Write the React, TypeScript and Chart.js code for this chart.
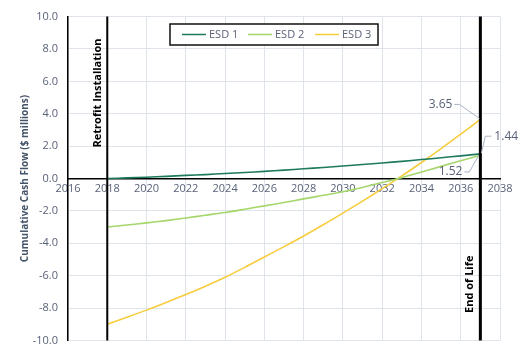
import React, { useEffect, useRef } from "react";
import { Chart, registerables } from "chart.js";

Chart.register(...registerables);

const years = [2018, 2019, 2020, 2021, 2022, 2023, 2024, 2025, 2026, 2027, 2028, 2029, 2030, 2031, 2032, 2033, 2034, 2035, 2036, 2037];
const esd1 = [0.0, 0.04, 0.08, 0.13, 0.19, 0.24, 0.31, 0.37, 0.44, 0.52, 0.6, 0.68, 0.77, 0.86, 0.96, 1.06, 1.17, 1.28, 1.4, 1.52];
const esd2 = [-3.0, -2.87, -2.74, -2.6, -2.44, -2.27, -2.1, -1.9, -1.69, -1.48, -1.26, -1.04, -0.82, -0.55, -0.25, 0.05, 0.4, 0.75, 1.1, 1.44];
const esd3 = [-9.0, -8.57, -8.13, -7.66, -7.17, -6.65, -6.1, -5.49, -4.85, -4.21, -3.55, -2.86, -2.14, -1.4, -0.63, 0.16, 0.99, 1.85, 2.74, 3.65];
const seriesNames = ["ESD 1", "ESD 2", "ESD 3"];
const seriesColors = ["#1d7a5f", "#a5d66a", "#f7cd3e"];
const endLabels = ["1.52", "1.44", "3.65"];
const markerYears = [2018, 2037];
const markerTexts = ["Retrofit Installation", "End of Life"];
const xMin = 2016;
const xMax = 2038;
const yMin = -10;
const yMax = 10;

const FONT = "'Open Sans', 'Noto Sans', sans-serif";
const TXT = "#5a6278";

const overlay = {
  id: "overlay",
  afterDatasetsDraw(chart: any) {
    const ctx = chart.ctx;
    const xs = chart.scales.x;
    const ys = chart.scales.y;
    const area = chart.chartArea;
    ctx.save();
    // vertical marker lines
    markerYears.forEach((yr, i) => {
      const px = xs.getPixelForValue(yr);
      ctx.strokeStyle = "#000";
      ctx.lineWidth = i === 0 ? 2 : 3;
      ctx.beginPath();
      ctx.moveTo(px, area.top);
      ctx.lineTo(px, area.bottom);
      ctx.stroke();
    });
    // marker texts
    ctx.fillStyle = "#000";
    ctx.font = "bold 11px " + FONT;
    {
      const px = xs.getPixelForValue(markerYears[0]);
      ctx.save();
      ctx.translate(px - 9, 93);
      ctx.rotate(-Math.PI / 2);
      ctx.textAlign = "center";
      ctx.textBaseline = "middle";
      ctx.fillText(markerTexts[0], 0, 0);
      ctx.restore();
    }
    {
      const px = xs.getPixelForValue(markerYears[1]);
      ctx.save();
      ctx.translate(px - 11, 313);
      ctx.rotate(-Math.PI / 2);
      ctx.textAlign = "left";
      ctx.textBaseline = "middle";
      ctx.fillText(markerTexts[1], 0, 0);
      ctx.restore();
    }
    // end labels with leader lines
    const lastX = xs.getPixelForValue(years[years.length - 1]);
    const p1 = ys.getPixelForValue(esd1[esd1.length - 1]);
    const p2 = ys.getPixelForValue(esd2[esd2.length - 1]);
    const p3 = ys.getPixelForValue(esd3[esd3.length - 1]);
    ctx.strokeStyle = "#a9b3c3";
    ctx.lineWidth = 1;
    ctx.font = "12px " + FONT;
    ctx.fillStyle = TXT;
    ctx.textBaseline = "middle";
    // ESD 3
    ctx.beginPath();
    ctx.moveTo(lastX - 26, p3 - 15);
    ctx.lineTo(lastX - 21, p3 - 15);
    ctx.lineTo(lastX - 1, p3 - 1);
    ctx.stroke();
    ctx.textAlign = "right";
    ctx.fillText(endLabels[2], lastX - 28, p3 - 15);
    // ESD 2
    ctx.beginPath();
    ctx.moveTo(lastX + 1, p2 - 2);
    ctx.lineTo(lastX + 5, p2 - 19);
    ctx.lineTo(lastX + 11, p2 - 19);
    ctx.stroke();
    ctx.textAlign = "left";
    ctx.fillText(endLabels[1], lastX + 14, p2 - 19);
    // ESD 1
    ctx.beginPath();
    ctx.moveTo(lastX - 2, p1 + 2);
    ctx.lineTo(lastX - 11, p1 + 18);
    ctx.lineTo(lastX - 16, p1 + 18);
    ctx.stroke();
    ctx.textAlign = "right";
    ctx.fillText(endLabels[0], lastX - 18, p1 + 18);

    // legend box
    const lx = 170, ly = 24, lw = 208, lh = 21;
    ctx.fillStyle = "#fff";
    ctx.fillRect(lx, ly, lw, lh);
    ctx.strokeStyle = "#111";
    ctx.lineWidth = 1.5;
    ctx.strokeRect(lx, ly, lw, lh);
    const itemX = [182, 248, 315];
    ctx.font = "11px " + FONT;
    ctx.textAlign = "left";
    ctx.textBaseline = "middle";
    seriesNames.forEach((n, i) => {
      const cy = ly + lh / 2;
      ctx.strokeStyle = seriesColors[i];
      ctx.lineWidth = 1.5;
      ctx.beginPath();
      ctx.moveTo(itemX[i], cy);
      ctx.lineTo(itemX[i] + 24, cy);
      ctx.stroke();
      ctx.fillStyle = TXT;
      ctx.fillText(n, itemX[i] + 27, cy + 0.5);
    });
    ctx.restore();
  },
};

export default function App() {
  const ref = useRef<HTMLCanvasElement>(null);
  useEffect(() => {
    if (!ref.current) return;
    const mk = (arr: number[]) => years.map((x, i) => ({ x, y: arr[i] }));
    const all = [esd1, esd2, esd3];
    const chart = new Chart(ref.current, {
      type: "line",
      data: {
        datasets: all.map((arr, i) => ({
          label: seriesNames[i],
          data: mk(arr),
          borderColor: seriesColors[i],
          backgroundColor: seriesColors[i],
          borderWidth: 1.6,
          pointRadius: 0,
          tension: 0.3,
          fill: false,
        })),
      },
      options: {
        animation: false,
        responsive: false,
        devicePixelRatio: 1,
        layout: { padding: { left: 19, top: 12, right: 25, bottom: 13 } },
        plugins: { legend: { display: false }, tooltip: { enabled: false } },
        scales: {
          x: {
            type: "linear",
            position: { y: 0 } as any,
            min: xMin,
            max: xMax,
            ticks: {
              stepSize: 2,
              color: TXT,
              font: { family: FONT, size: 11 },
              padding: 4,
              maxRotation: 0,
              callback: (v: any) => String(v),
            },
            grid: { color: "#dfe3ea", lineWidth: 1, tickLength: 0 },
            border: { color: "#000", width: 1.5 },
          },
          y: {
            type: "linear",
            position: "left",
            min: yMin,
            max: yMax,
            ticks: {
              stepSize: 2,
              color: TXT,
              font: { family: FONT, size: 11 },
              padding: 10,
              callback: (v: any) => Number(v).toFixed(1),
            },
            grid: { color: "#dfe3ea", lineWidth: 1, tickLength: 0 },
            border: { color: "#000", width: 1.5 },
            title: {
              display: true,
              text: "Cumulative Cash Flow ($ millions)",
              color: "#44546a",
              font: { family: FONT, size: 10, weight: "bold" },
              padding: { top: 0, bottom: 0 },
            },
            afterFit: (s: any) => {
              s.width = 49;
            },
          },
        },
      },
      plugins: [overlay],
    });
    return () => chart.destroy();
  }, []);
  return (
    <div style={{ position: "fixed", left: 0, top: 0, width: 525, height: 357, background: "#fff" }}>
      <canvas ref={ref} width={525} height={357} style={{ width: 525, height: 357 }} />
    </div>
  );
}
